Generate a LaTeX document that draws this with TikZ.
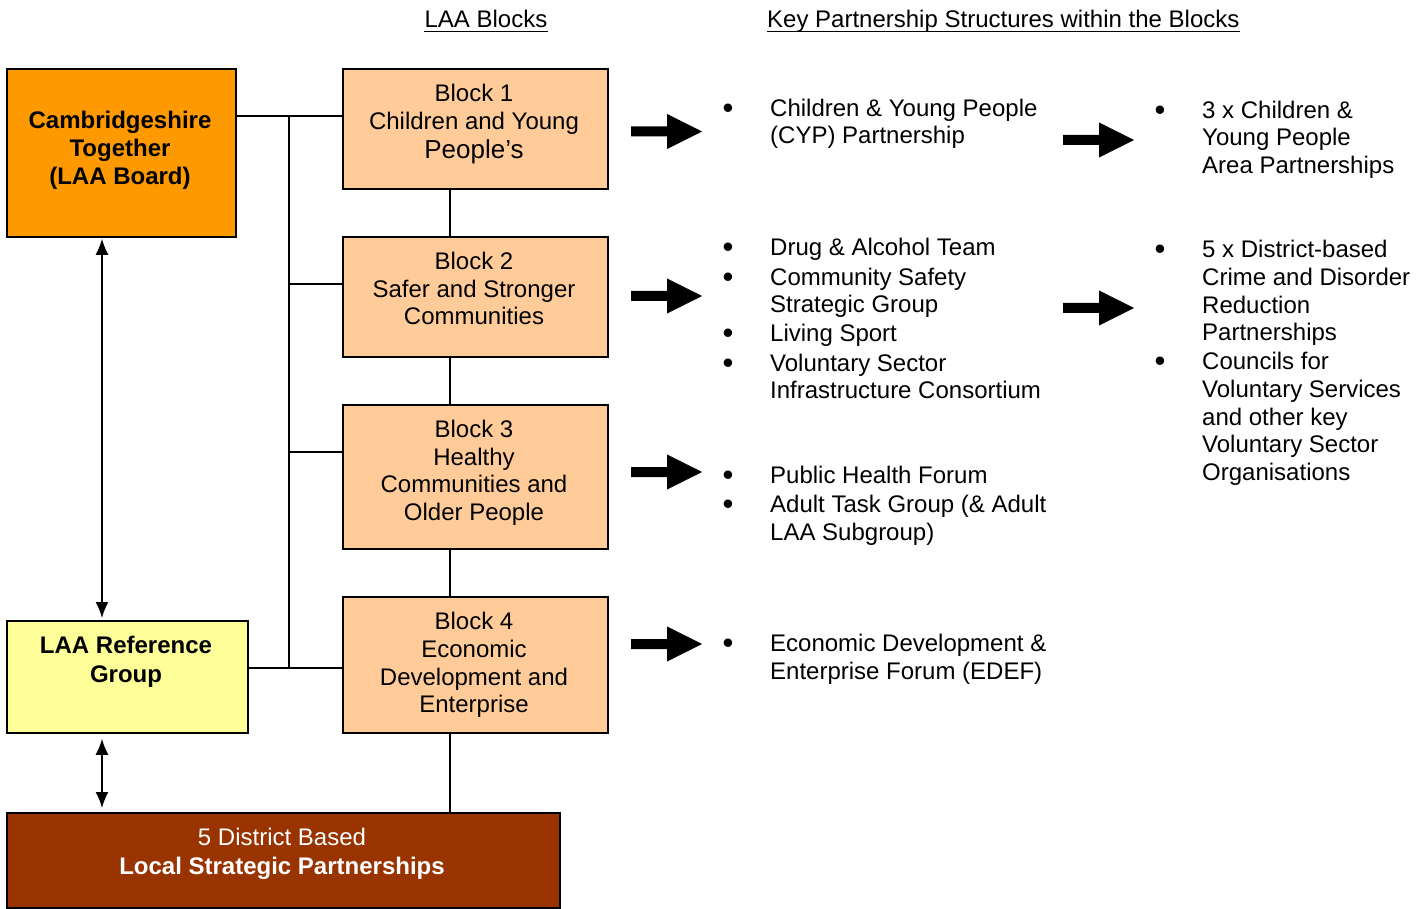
\documentclass[tikz,border=0pt]{standalone}
\usepackage{fontspec}
\setmainfont{Liberation Sans}
\usetikzlibrary{arrows.meta}
\definecolor{ctorange}{HTML}{FF9900}
\definecolor{peach}{HTML}{FFCC99}
\definecolor{paleyellow}{HTML}{FFFF99}
\definecolor{brown}{HTML}{993300}
\begin{document}
\begin{tikzpicture}[x=1pt,y=-1pt,
  box/.style={draw=black, line width=1.8pt, inner sep=0pt, anchor=north west},
  txt/.style={font=\fontsize{24}{28}\selectfont, inner sep=0pt, anchor=base},
  ltxt/.style={txt, anchor=base west},
  btxt/.style={txt, font=\fontsize{24}{28}\selectfont\bfseries},
  bul/.style={txt, font=\fontsize{31}{31}\selectfont},
  conn/.style={line width=1.6pt},
  uline/.style={line width=1.7pt},
  dbl/.style={line width=1.6pt, {Latex[length=16pt,width=13pt]}-{Latex[length=16pt,width=13pt]}},
  blockarrow/.style={fill=black}
]
\useasboundingbox (0,0) rectangle (1427,909);

% headings
\node[txt] (h1) at (486,28) {LAA Blocks};
\node[ltxt] (h2) at (767,28) {Key Partnership Structures within the Blocks};
\draw[uline] ([yshift=-3.5pt]h1.base west) -- ([yshift=-3.5pt]h1.base east);
\draw[uline] ([yshift=-3.5pt]h2.base west) -- ([yshift=-3.5pt]h2.base east);

% boxes
\node[box, fill=ctorange, minimum width=229pt, minimum height=168pt] (ct) at (6,68) {};
\node[box, fill=peach, minimum width=265pt, minimum height=120pt] (b1) at (342,68) {};
\node[box, fill=peach, minimum width=265pt, minimum height=120pt] (b2) at (342,236) {};
\node[box, fill=peach, minimum width=265pt, minimum height=144pt] (b3) at (342,404) {};
\node[box, fill=peach, minimum width=265pt, minimum height=136pt] (b4) at (342,596) {};
\node[box, fill=paleyellow, minimum width=241pt, minimum height=112pt] (ref) at (6,620) {};
\node[box, fill=brown, minimum width=553pt, minimum height=95pt] (lsp) at (6,812) {};

% box texts
\foreach \y/\t [count=\i] in {128.5/Cambridgeshire, 156.5/Together, 184.5/(LAA Board)}
  \node[btxt] (ctt\i) at (120,\y) {\t};
\foreach \y/\t [count=\i] in {101.5/Block 1, 130/Children and Young}
  \node[txt] (b1t\i) at (474,\y) {\t};
\node[txt, font=\fontsize{26}{28}\selectfont] (b1t3) at (474,159) {People’s};
\foreach \y/\t [count=\i] in {269.5/Block 2, 297.5/Safer and Stronger, 324.5/Communities}
  \node[txt] (b2t\i) at (474,\y) {\t};
\foreach \y/\t [count=\i] in {437.5/Block 3, 465.5/Healthy, 492.5/Communities and, 520.5/Older People}
  \node[txt] (b3t\i) at (474,\y) {\t};
\foreach \y/\t [count=\i] in {629.5/Block 4, 657.5/Economic, 685.5/Development and, 712.5/Enterprise}
  \node[txt] (b4t\i) at (474,\y) {\t};
\foreach \y/\t [count=\i] in {653.5/LAA Reference, 682.5/Group}
  \node[btxt] (reft\i) at (126,\y) {\t};
\node[txt, text=white] (lspt1) at (282,845.5) {5 District Based};
\node[btxt, text=white] (lspt2) at (282,874.5) {Local Strategic Partnerships};

% connectors
\coordinate (j1) at (289,116);
\coordinate (j2) at (289,284);
\coordinate (j3) at (289,452);
\coordinate (j4) at (289,668);
\coordinate (vx) at (450,0);
\coordinate (ax) at (102,0);
\draw[conn] (ct.east |- j1) -- (b1.west |- j1);
\draw[conn] (j1) -- (j4);
\draw[conn] (j2) -- (b2.west |- j2);
\draw[conn] (j3) -- (b3.west |- j3);
\draw[conn] (ref.east |- j4) -- (b4.west |- j4);
\draw[conn] (b1.south -| vx) -- (b2.north -| vx);
\draw[conn] (b2.south -| vx) -- (b3.north -| vx);
\draw[conn] (b3.south -| vx) -- (b4.north -| vx);
\draw[conn] (b4.south -| vx) -- (lsp.north -| vx);
\draw[dbl, shorten <=1pt, shorten >=2pt] (ct.south -| ax) -- (ref.north -| ax);
\draw[dbl, shorten <=5pt, shorten >=4pt] (ref.south -| ax) -- (lsp.north -| ax);

% block arrows
\foreach \x/\y in {631/131.5, 631/296, 631/472, 631/644, 1063/140, 1063/308}
  \fill[blockarrow] (\x,\y-5) -- ++(36,0) -- ++(0,-12.5) -- ++(35,17.5) -- ++(-35,17.5) -- ++(0,-12.5) -- ++(-36,0) -- cycle;

% bullets
\foreach \y [count=\i] in {108,247,277,333,363,475,504,643}
  \node[bul] (bl\i) at (728,\y+10.5) {•};
\foreach \y [count=\i] in {110,249,361}
  \node[bul] (br\i) at (1160,\y+10.5) {•};

% list texts
\foreach \y/\t [count=\i] in {108/Children \& Young People, 135/(CYP) Partnership,
  247/Drug \& Alcohol Team, 277/Community Safety, 304/Strategic Group, 333/Living Sport,
  363/Voluntary Sector, 390/Infrastructure Consortium,
  475/Public Health Forum, 504/Adult Task Group (\& Adult, 532/LAA Subgroup),
  643/Economic Development \&, 671/Enterprise Forum (EDEF)}
  \node[ltxt] (lt\i) at (770,\y+8.5) {\t};
\foreach \y/\t [count=\i] in {110/3 x Children \&, 137/Young People, 165/Area Partnerships,
  249/5 x District-based, 277/Crime and Disorder, 305/Reduction, 332/Partnerships,
  361/Councils for, 389/Voluntary Services, 417/and other key, 444/Voluntary Sector, 472/Organisations}
  \node[ltxt] (rt\i) at (1202,\y+8.5) {\t};
\end{tikzpicture}
\end{document}
